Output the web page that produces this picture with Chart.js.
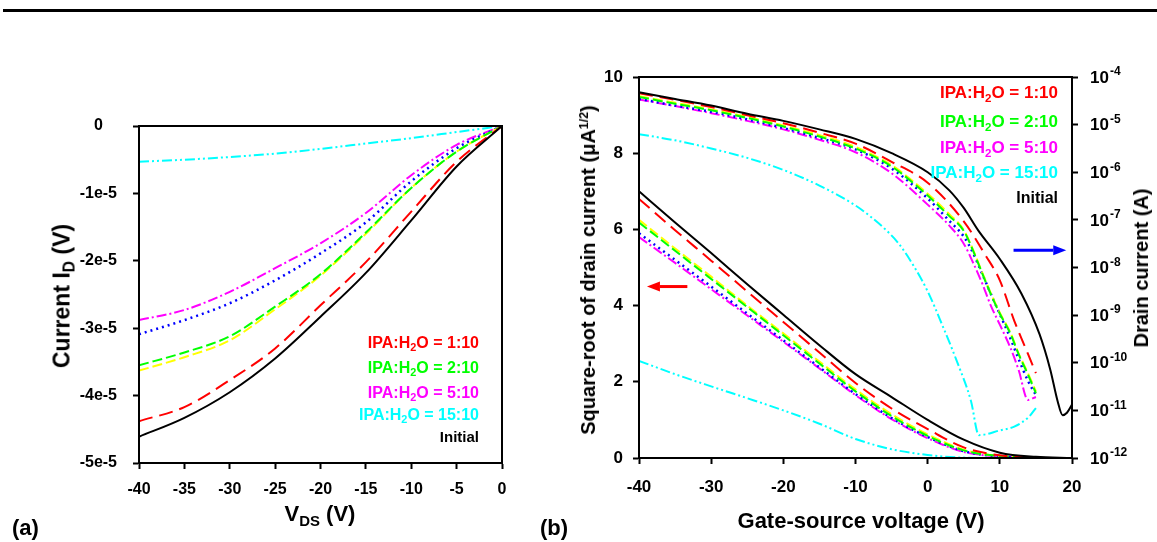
<!DOCTYPE html>
<html>
<head>
<meta charset="utf-8">
<script src="https://cdn.jsdelivr.net/npm/chart.js@4.4.1/dist/chart.umd.min.js"></script>
<style>
  html, body { margin: 0; padding: 0; background: #fff; }
  body { width: 1157px; height: 542px; position: relative; overflow: hidden;
         font-family: "Liberation Sans", Arial, sans-serif; font-weight: bold; color: #000; }
  canvas { position: absolute; top: 0; }
  #chartA { left: 0; }
  #chartB { left: 560px; }
  .rule { position: absolute; left: 3px; right: 0; top: 9px; height: 3px; background: #000; }
  .lbl { position: absolute; white-space: nowrap; line-height: 1; }
  .c { transform: translate(-50%, -50%); }
  .rot { transform: translate(-50%, -50%) rotate(-90deg); }
  .leg { position: absolute; white-space: nowrap; text-align: right; line-height: 20px; }
  .sb { font-size: 68%; position: relative; top: 0.32em; line-height: 0; }
  .sp { font-size: 62%; position: relative; top: -0.55em; line-height: 0; }
</style>
</head>
<body>
<div class="rule"></div>
<canvas id="chartA" width="560" height="542"></canvas>
<canvas id="chartB" width="597" height="542"></canvas>

<div class="lbl rot" style="left:62px; top:296px; font-size:23px;">Current I<span class="sb">D</span> (V)</div>
<div class="lbl c" style="left:320px; top:514px; font-size:22px;">V<span class="sb">DS</span> (V)</div>
<div class="lbl" style="left:12px; top:517px; font-size:22px;">(a)</div>

<div class="lbl rot" style="left:588px; top:270px; font-size:20px;">Square-root of drain current (&mu;A<span class="sp">1/2</span>)</div>
<div class="lbl rot" style="left:1141px; top:268px; font-size:20px;">Drain current (A)</div>
<div class="lbl c" style="left:861px; top:521px; font-size:22px;">Gate-source voltage (V)</div>
<div class="lbl" style="left:540px; top:517px; font-size:22px;">(b)</div>

<script>
// ---- (a) output curves: drain current vs V_DS ----
const vds = [-40, -35, -30, -25, -20, -15, -10, -5, 0];
const idInitial = [-4.61e-5, -4.33e-5, -3.95e-5, -3.45e-5, -2.83e-5, -2.18e-5, -1.40e-5, -0.60e-5, 0];
const id1to10 = [-4.38e-5, -4.17e-5, -3.77e-5, -3.30e-5, -2.66e-5, -2.02e-5, -1.27e-5, -0.53e-5, 0];
const id2to10 = [-3.55e-5, -3.36e-5, -3.12e-5, -2.68e-5, -2.20e-5, -1.58e-5, -0.92e-5, -0.38e-5, 0];
const idYellow = [-3.63e-5, -3.43e-5, -3.18e-5, -2.72e-5, -2.22e-5, -1.60e-5, -0.92e-5, -0.38e-5, 0];
const idBlue = [-3.09e-5, -2.88e-5, -2.63e-5, -2.29e-5, -1.89e-5, -1.43e-5, -0.82e-5, -0.33e-5, 0];
const id5to10 = [-2.88e-5, -2.73e-5, -2.46e-5, -2.11e-5, -1.74e-5, -1.29e-5, -0.73e-5, -0.28e-5, 0];
const id15to10 = [-0.53e-5, -0.50e-5, -0.46e-5, -0.41e-5, -0.34e-5, -0.26e-5, -0.18e-5, -0.09e-5, 0];
const yTickLabelsA = ["0", "-1e-5", "-2e-5", "-3e-5", "-4e-5", "-5e-5"];

// ---- (b) transfer curves, square-root of I_D (uA^1/2) ----
const vgs = [-40, -35, -30, -25, -20, -15, -10, -5, 0, 5, 10, 15, 20];
const sqInitial = [7.0, 6.18, 5.38, 4.56, 3.76, 2.96, 2.2, 1.6, 1.0, 0.48, 0.14, 0.03, 0.0];
const sq1to10 = [6.8, 5.98, 5.18, 4.37, 3.57, 2.77, 1.97, 1.3, 0.76, 0.28, 0.07, 0.01];
const sq2to10 = [6.18, 5.44, 4.7, 3.96, 3.22, 2.48, 1.75, 1.1, 0.58, 0.2, 0.05, 0.01];
const sqYellow = [6.25, 5.5, 4.76, 4.0, 3.27, 2.53, 1.8, 1.15, 0.62, 0.22, 0.05, 0.01];
const sqBlue = [5.9, 5.2, 4.5, 3.79, 3.09, 2.38, 1.68, 1.05, 0.55, 0.18, 0.04, 0.01];
const sq5to10 = [5.8, 5.12, 4.43, 3.74, 3.05, 2.35, 1.65, 1.02, 0.52, 0.16, 0.04, 0.01];
const sq15to10 = [2.55, 2.2, 1.88, 1.57, 1.25, 0.9, 0.5, 0.23, 0.08, 0.01, 0, 0];

// ---- (b) transfer curves, I_D on log axis (A) ----
const vgsLogInitial = [-40, -35, -30, -25, -20, -15, -10, -5, 0, 3, 5, 7, 10, 13, 15.5, 17, 18, 18.7, 19.3, 20];
const logInitial = [4.79e-5, 3.47e-5, 2.51e-5, 1.70e-5, 1.20e-5, 7.94e-6, 5.01e-6, 2.51e-6, 1.0e-6, 4.17e-7,
  1.78e-7, 6.03e-8, 1.51e-8, 2.82e-9, 3.98e-10, 7.08e-11, 1.58e-11, 7.94e-12, 8.91e-12, 1.32e-11];
const vgsLog1to10 = [-40, -35, -30, -25, -20, -15, -10, -5, 0, 5, 8, 10, 12, 14, 15];
const log1to10 = [4.57e-5, 3.31e-5, 2.34e-5, 1.58e-5, 1.07e-5, 6.76e-6, 3.98e-6, 1.66e-6, 6.03e-7, 9.33e-8,
  1.82e-8, 5.37e-9, 7.59e-10, 1.41e-10, 6.03e-11];
const vgsLogMix = [-40, -35, -30, -25, -20, -15, -10, -5, 0, 3, 5, 6.3, 7.6, 8.75, 10, 11.5, 12.6, 13.9, 15];
const logYellow = [3.98e-5, 2.88e-5, 2.09e-5, 1.45e-5, 9.55e-6, 6.03e-6, 3.39e-6, 1.41e-6, 3.55e-7, 1.32e-7,
  6.17e-8, 2.34e-8, 7.59e-9, 2.88e-9, 1.12e-9, 4.17e-10, 1.58e-10, 6.03e-11, 2.51e-11];
const log2to10 = [3.80e-5, 2.75e-5, 2.0e-5, 1.38e-5, 9.12e-6, 5.62e-6, 3.16e-6, 1.32e-6, 3.24e-7, 1.20e-7,
  5.89e-8, 2.24e-8, 7.24e-9, 2.75e-9, 1.07e-9, 3.98e-10, 1.51e-10, 5.62e-11, 2.29e-11];
const logBlue = [3.47e-5, 2.51e-5, 1.86e-5, 1.29e-5, 8.51e-6, 5.25e-6, 3.02e-6, 1.20e-6, 2.82e-7, 9.55e-8,
  4.47e-8, 2.0e-8, 7.08e-9, 2.82e-9, 1.05e-9, 3.16e-10, 1.20e-10, 4.17e-11, 2.09e-11];
const log5to10 = [3.39e-5, 2.45e-5, 1.74e-5, 1.20e-5, 7.94e-6, 4.79e-6, 2.63e-6, 9.55e-7, 2.09e-7, 7.59e-8,
  3.16e-8, 1.26e-8, 4.47e-9, 1.58e-9, 6.31e-10, 2.0e-10, 7.08e-11, 1.66e-11, 1.91e-11];
const vgsLog15to10 = [-40, -35, -30, -25, -20, -15, -10, -8, -6, -4, -2, 0, 2, 4, 6, 7.1, 10, 12, 14, 15];
const log15to10 = [6.31e-6, 4.68e-6, 3.16e-6, 2.0e-6, 1.12e-6, 5.25e-7, 2.0e-7, 1.20e-7, 6.61e-8, 3.16e-8,
  1.12e-8, 3.16e-9, 6.31e-10, 1.12e-10, 1.58e-11, 3.02e-12, 3.80e-12, 4.57e-12, 7.24e-12, 1.12e-11];
const logTicks = [1e-4, 1e-5, 1e-6, 1e-7, 1e-8, 1e-9, 1e-10, 1e-11, 1e-12];

// legend text
const ratios = ["1:10", "2:10", "5:10", "15:10"];

// line styles
const sty = {
  initial: { color: "#000000", dash: [], width: 2 },
  r1: { color: "#ff0000", dash: [14, 7], width: 2 },
  r2: { color: "#00ff00", dash: [10, 4], width: 2 },
  yel: { color: "#ffff00", dash: [10, 4], width: 2 },
  blue: { color: "#0000ff", dash: [2, 4], width: 2.5 },
  r5: { color: "#ff00ff", dash: [10, 3, 2, 3], width: 2 },
  r15: { color: "#00ffff", dash: [10, 3, 2, 3, 2, 3], width: 2 }
};
const legendColors = [sty.r1.color, sty.r2.color, sty.r5.color, sty.r15.color];

const FONT = '"Liberation Sans", Arial, sans-serif';

function line(label, xs, ys, s, axis) {
  return {
    label: label,
    data: xs.slice(0, ys.length).map((x, i) => ({ x: x, y: ys[i] })),
    borderColor: s.color,
    borderDash: s.dash,
    borderWidth: s.width,
    pointRadius: 0,
    fill: false,
    cubicInterpolationMode: "monotone",
    yAxisID: axis || "y"
  };
}

function axisGrid() {
  return { display: true, drawOnChartArea: false, drawTicks: true, tickLength: 6,
           tickWidth: 2, tickColor: "#000", color: "#000" };
}

const frame = {
  id: "frame",
  afterDatasetsDraw(chart) {
    const a = chart.chartArea;
    const ctx = chart.ctx;
    ctx.save();
    ctx.strokeStyle = "#000";
    ctx.lineWidth = 2;
    ctx.strokeRect(a.left, a.top, a.right - a.left, a.bottom - a.top);
    ctx.restore();
  }
};

// ---------------- chart (a) ----------------
new Chart(document.getElementById("chartA"), {
  type: "line",
  data: {
    datasets: [
      line("Initial", vds, idInitial, sty.initial),
      line("1:10", vds, id1to10, sty.r1),
      line("2:10", vds, id2to10, sty.r2),
      line("yellow", vds, idYellow, sty.yel),
      line("blue", vds, idBlue, sty.blue),
      line("5:10", vds, id5to10, sty.r5),
      line("15:10", vds, id15to10, sty.r15)
    ]
  },
  options: {
    responsive: false,
    animation: false,
    layout: { padding: { top: 126, right: 58, left: 0, bottom: 0 } },
    plugins: { legend: { display: false }, tooltip: { enabled: false } },
    scales: {
      x: {
        type: "linear", min: -40, max: 0,
        ticks: { stepSize: 5, color: "#000", padding: 11, maxRotation: 0,
                 font: { family: FONT, size: 16, weight: "bold" } },
        grid: axisGrid(),
        border: { display: true, color: "#000", width: 2 },
        afterFit: s => { s.height = 79; }
      },
      y: {
        type: "linear", min: -5e-5, max: 0,
        ticks: { stepSize: 1e-5, color: "#000", padding: 16, crossAlign: "center",
                 font: { family: FONT, size: 16, weight: "bold" },
                 callback: v => yTickLabelsA[Math.round(-v * 1e5)] },
        grid: axisGrid(),
        border: { display: true, color: "#000", width: 2 },
        afterFit: s => { s.width = 139; }
      }
    }
  },
  plugins: [frame]
});

// ---------------- chart (b) ----------------
const logLabels = {
  id: "logLabels",
  afterDraw(chart) {
    const s = chart.scales.yLog;
    const ctx = chart.ctx;
    ctx.save();
    ctx.fillStyle = "#000";
    ctx.textBaseline = "middle";
    ctx.textAlign = "left";
    logTicks.forEach(v => {
      const y = s.getPixelForValue(v);
      const x = s.left + 18;
      ctx.font = "bold 17px " + FONT;
      ctx.fillText("10", x, y + 1);
      const w = ctx.measureText("10").width;
      ctx.font = "bold 12px " + FONT;
      ctx.fillText(String(Math.round(Math.log10(v))), x + w + 1, y - 5);
    });
    ctx.restore();
  }
};

// arrows pointing at the axis each family belongs to (data units)
const arrows = [
  { axis: "y", from: -33.3, to: -38.9, at: 4.5, color: "#ff0000" },
  { axis: "yLog", from: 11.9, to: 19.2, at: 2.3e-8, color: "#0000ff" }
];
const arrowPlugin = {
  id: "arrows",
  afterDatasetsDraw(chart) {
    const ctx = chart.ctx;
    const xs = chart.scales.x;
    arrows.forEach(a => {
      const y = chart.scales[a.axis].getPixelForValue(a.at);
      const x0 = xs.getPixelForValue(a.from);
      const x1 = xs.getPixelForValue(a.to);
      const dir = Math.sign(x1 - x0);
      const head = 13;
      ctx.save();
      ctx.strokeStyle = a.color;
      ctx.fillStyle = a.color;
      ctx.lineWidth = 3;
      ctx.beginPath();
      ctx.moveTo(x0, y);
      ctx.lineTo(x1 - dir * head, y);
      ctx.stroke();
      ctx.beginPath();
      ctx.moveTo(x1, y);
      ctx.lineTo(x1 - dir * head, y - 5);
      ctx.lineTo(x1 - dir * head, y + 5);
      ctx.closePath();
      ctx.fill();
      ctx.restore();
    });
  }
};

new Chart(document.getElementById("chartB"), {
  type: "line",
  data: {
    datasets: [
      line("Initial", vgs, sqInitial, sty.initial),
      line("1:10", vgs, sq1to10, sty.r1),
      line("2:10", vgs, sq2to10, sty.r2),
      line("yellow", vgs, sqYellow, sty.yel),
      line("blue", vgs, sqBlue, sty.blue),
      line("5:10", vgs, sq5to10, sty.r5),
      line("15:10", vgs, sq15to10, sty.r15),
      line("Initial log", vgsLogInitial, logInitial, sty.initial, "yLog"),
      line("1:10 log", vgsLog1to10, log1to10, sty.r1, "yLog"),
      line("2:10 log", vgsLogMix, log2to10, sty.r2, "yLog"),
      line("yellow log", vgsLogMix, logYellow, sty.yel, "yLog"),
      line("blue log", vgsLogMix, logBlue, sty.blue, "yLog"),
      line("5:10 log", vgsLogMix, log5to10, sty.r5, "yLog"),
      line("15:10 log", vgsLog15to10, log15to10, sty.r15, "yLog")
    ]
  },
  options: {
    responsive: false,
    animation: false,
    layout: { padding: { top: 77, right: 0, left: 0, bottom: 0 } },
    plugins: { legend: { display: false }, tooltip: { enabled: false } },
    scales: {
      x: {
        type: "linear", min: -40, max: 20,
        ticks: { stepSize: 10, color: "#000", padding: 13, maxRotation: 0,
                 font: { family: FONT, size: 17, weight: "bold" } },
        grid: axisGrid(),
        border: { display: true, color: "#000", width: 2 },
        afterFit: s => { s.height = 84; }
      },
      y: {
        type: "linear", position: "left", min: 0, max: 10,
        ticks: { stepSize: 2, color: "#000", padding: 10,
                 font: { family: FONT, size: 17, weight: "bold" } },
        grid: axisGrid(),
        border: { display: true, color: "#000", width: 2 },
        afterFit: s => { s.width = 79; }
      },
      yLog: {
        type: "logarithmic", position: "right", min: 1e-12, max: 1e-4,
        ticks: { display: false },
        afterBuildTicks: s => { s.ticks = logTicks.map(v => ({ value: v })); },
        grid: axisGrid(),
        border: { display: true, color: "#000", width: 2 },
        afterFit: s => { s.width = 85; }
      }
    }
  },
  plugins: [frame, arrowPlugin, logLabels]
});

// ---------------- legends (text only, as in the figure) ----------------
function addLegend(rightEdge, rows, size, initSize) {
  ratios.forEach((r, i) => {
    const d = document.createElement("div");
    d.className = "leg";
    d.style.right = (1157 - rightEdge) + "px";
    d.style.top = (rows[i] - 10) + "px";
    d.style.fontSize = size + "px";
    d.style.color = legendColors[i];
    d.innerHTML = 'IPA:H<span class="sb">2</span>O = ' + r;
    document.body.appendChild(d);
  });
  const ini = document.createElement("div");
  ini.className = "leg";
  ini.style.right = (1157 - rightEdge) + "px";
  ini.style.top = (rows[4] - 10) + "px";
  ini.style.fontSize = initSize + "px";
  ini.textContent = "Initial";
  document.body.appendChild(ini);
}
addLegend(479, [343, 368, 393, 415, 437], 16, 15);
addLegend(1058, [93, 122, 148, 173, 198], 17, 16);
</script>
</body>
</html>
